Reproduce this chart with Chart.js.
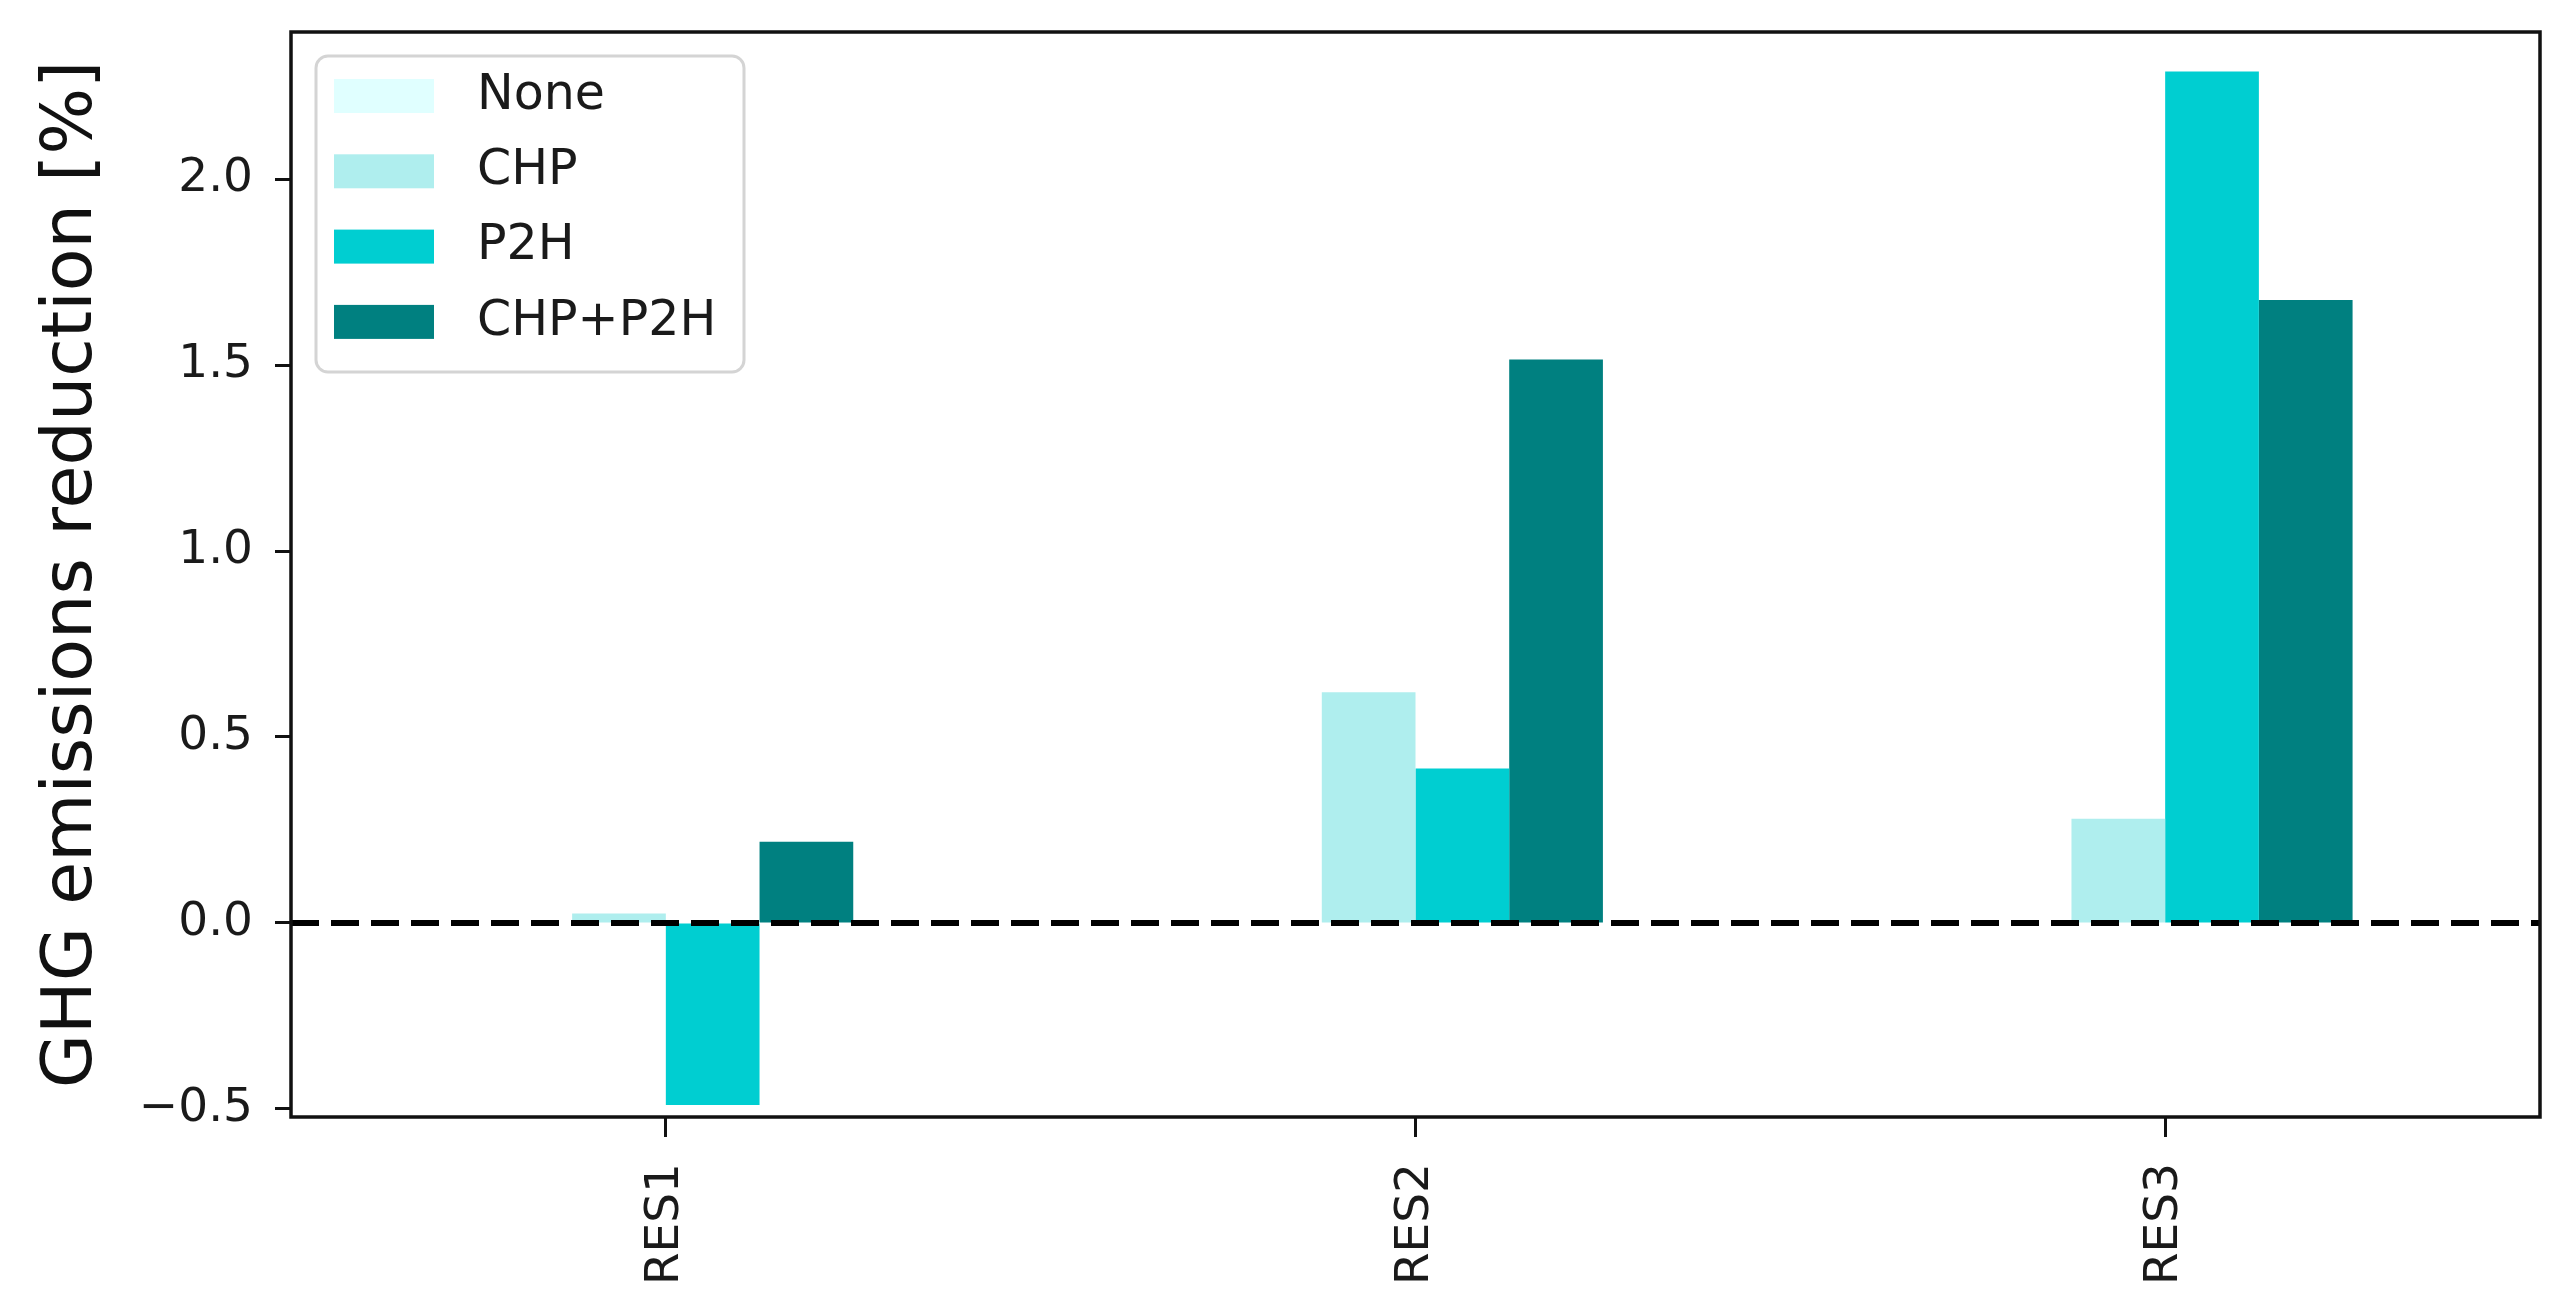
<!DOCTYPE html>
<html><head><meta charset="utf-8">
<script src="https://cdn.jsdelivr.net/npm/chart.js@4/dist/chart.umd.min.js"></script>
<style>html,body{margin:0;padding:0;background:#fff;overflow:hidden}
#wrap{position:relative;width:2568px;height:1314px}</style></head>
<body><div id="wrap"><canvas id="c" width="2568" height="1314"></canvas></div>
<script>
const categories = ['RES1', 'RES2', 'RES3'];
const seriesNames = ['None', 'CHP', 'P2H', 'CHP+P2H'];
const noneValues = [0, 0, 0];
const chpValues = [0.025, 0.62, 0.28];
const p2hValues = [-0.49, 0.415, 2.29];
const chpP2hValues = [0.218, 1.515, 1.675];
const seriesColors = ['#E0FFFF', '#AFEEEE', '#00CED1', '#008080'];
const yTickValues = [-0.5, 0, 0.5, 1.0, 1.5, 2.0];
const yTickLabels = ['\u22120.5', '0.0', '0.5', '1.0', '1.5', '2.0'];
const yAxisTitle = 'GHG emissions reduction [%]';

const FONT = "'DejaVu Sans', 'Liberation Sans', sans-serif";
const seriesValues = [noneValues, chpValues, p2hValues, chpP2hValues];

function zeroPad(s) { s.paddingTop = 0; s.paddingBottom = 0; s.paddingLeft = 0; s.paddingRight = 0; }

const frameZeroPlugin = {
  id: 'frameZero',
  afterDatasetsDraw(chart) {
    const ctx = chart.ctx, a = chart.chartArea, y = chart.scales.y.getPixelForValue(0);
    ctx.save();
    ctx.strokeStyle = '#000';
    ctx.lineWidth = 6;
    ctx.setLineDash([28, 12]);
    ctx.beginPath();
    ctx.moveTo(a.left, y);
    ctx.lineTo(a.right, y);
    ctx.stroke();
    ctx.setLineDash([]);
    ctx.lineWidth = 3.5;
    ctx.strokeStyle = '#111';
    ctx.strokeRect(a.left, a.top, a.right - a.left, a.bottom - a.top);
    ctx.restore();
  }
};

const legendPlugin = {
  id: 'boxLegend',
  afterDraw(chart) {
    const ctx = chart.ctx, a = chart.chartArea;
    const bx = a.left + 25, by = a.top + 24, bw = 428, bh = 316, r = 12;
    ctx.save();
    ctx.fillStyle = 'rgba(255,255,255,0.85)';
    ctx.strokeStyle = '#d4d4d4';
    ctx.lineWidth = 3;
    ctx.beginPath();
    ctx.roundRect(bx, by, bw, bh, r);
    ctx.fill();
    ctx.stroke();
    ctx.font = '49px ' + FONT;
    ctx.textBaseline = 'middle';
    ctx.textAlign = 'left';
    chart.data.datasets.forEach((ds, i) => {
      const cy = by + 40 + i * 75.3;
      ctx.fillStyle = ds.backgroundColor;
      ctx.fillRect(bx + 18, cy - 17, 100, 34);
      ctx.fillStyle = '#1a1a1a';
      ctx.fillText(ds.label, bx + 161, cy);
    });
    ctx.restore();
  }
};

new Chart(document.getElementById('c'), {
  type: 'bar',
  data: {
    labels: categories,
    datasets: seriesNames.map((name, i) => ({
      label: name,
      data: seriesValues[i],
      backgroundColor: seriesColors[i],
      borderWidth: 0,
      categoryPercentage: 0.5,
      barPercentage: 1.0
    }))
  },
  options: {
    responsive: false,
    animation: false,
    devicePixelRatio: 1,
    layout: { padding: { top: 32, right: 28, left: 0, bottom: 0 } },
    plugins: { legend: { display: false }, tooltip: { enabled: false } },
    scales: {
      x: {
        afterFit: s => { s.height = 197; zeroPad(s); },
        grid: { display: true, drawOnChartArea: false, drawTicks: true, tickLength: 20, tickWidth: 3, tickColor: '#111', offset: false },
        border: { display: false },
        ticks: { minRotation: 90, maxRotation: 90, padding: 26, autoSkip: false, font: { family: FONT, size: 47 }, color: '#1a1a1a' }
      },
      y: {
        min: -0.522,
        max: 2.396,
        afterBuildTicks: s => { s.ticks = yTickValues.map(v => ({ value: v })); },
        afterFit: s => { s.width = 291; zeroPad(s); },
        grid: { display: true, drawOnChartArea: false, drawTicks: true, tickLength: 16, tickWidth: 3, tickColor: '#111' },
        border: { display: false },
        ticks: {
          padding: 22,
          font: { family: FONT, size: 47 },
          color: '#1a1a1a',
          callback: (v) => { const k = yTickValues.findIndex(t => Math.abs(t - v) < 1e-9); return k >= 0 ? yTickLabels[k] : ''; }
        },
        title: { display: true, text: yAxisTitle, font: { family: FONT, size: 70 }, color: '#111', padding: { top: 31, bottom: 0 } }
      }
    }
  },
  plugins: [frameZeroPlugin, legendPlugin]
});
</script>
</body></html>
